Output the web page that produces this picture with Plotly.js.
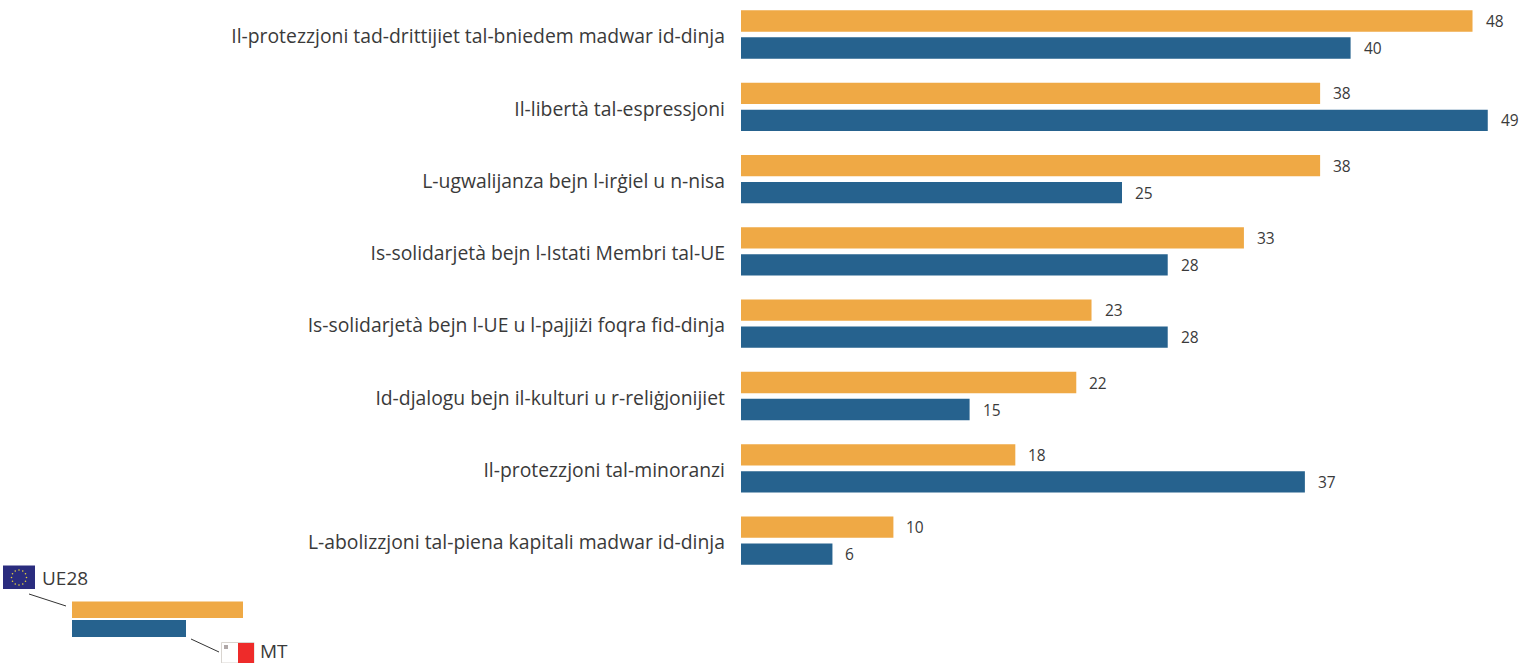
<!DOCTYPE html>
<html>
<head>
<meta charset="utf-8">
<script src="https://cdn.plot.ly/plotly-3.0.1.min.js"></script>
<style>html,body{margin:0;padding:0;background:#fff;overflow:hidden}#c{width:1532px;height:663px}</style>
</head>
<body>
<div id="c"></div>
<script>
const categories = [
  "Il-protezzjoni tad-drittijiet tal-bniedem madwar id-dinja",
  "Il-libertà tal-espressjoni",
  "L-ugwalijanza bejn l-irġiel u n-nisa",
  "Is-solidarjetà bejn l-Istati Membri tal-UE",
  "Is-solidarjetà bejn l-UE u l-pajjiżi foqra fid-dinja",
  "Id-djalogu bejn il-kulturi u r-reliġjonijiet",
  "Il-protezzjoni tal-minoranzi",
  "L-abolizzjoni tal-piena kapitali madwar id-dinja"
];
const ue28 = [48, 38, 38, 33, 23, 22, 18, 10];
const mt = [40, 49, 25, 28, 28, 15, 37, 6];
const orange = "#efa945";
const blue = "#26628e";
const textCol = "#3a3a3a";
const W = 1532, H = 663;
const FONT = "'Open Sans', sans-serif";

const px = v => v / W;
const py = v => 1 - v / H;
const rect = (x0, y0, x1, y1, fill, line) => ({type: "rect", xref: "paper", yref: "paper",
  x0: px(x0), x1: px(x1), y0: py(y0), y1: py(y1), fillcolor: fill,
  line: line ? {color: line, width: 1} : {width: 0}});
const seg = (x0, y0, x1, y1) => ({type: "line", xref: "paper", yref: "paper",
  x0: px(x0), x1: px(x1), y0: py(y0), y1: py(y1), line: {color: "#333", width: 1}});

const shapes = [
  rect(72, 601.5, 243, 618, orange),
  rect(72, 620, 186, 637, blue),
  seg(29, 594, 66, 606),
  seg(191, 639, 219, 652),
  rect(3, 565.5, 35, 589, "#2a2c7e"),
  rect(221.5, 642.5, 254, 663, "#ffffff", "#d9d5d0"),
  rect(238, 643, 254, 663, "#ee2b2a"),
  rect(224, 645, 228, 649, "#b0a8a8")
];
for (let i = 0; i < 12; i++) {
  const a = i * Math.PI / 6, cx = 19 + 7.5 * Math.cos(a), cy = 577.5 + 7.5 * Math.sin(a);
  shapes.push({type: "circle", xref: "paper", yref: "paper",
    x0: px(cx - 0.8), x1: px(cx + 0.8), y0: py(cy - 0.8), y1: py(cy + 0.8),
    fillcolor: "#e6d23c", line: {width: 0}});
}

const annotations = [];
const valueNote = (x, y, shift) => ({x, y, xref: "x", yref: "y", text: String(x), showarrow: false,
  xanchor: "left", yanchor: "middle", xshift: 11, yshift: shift,
  font: {family: FONT, size: 15.5, color: textCol}});
categories.forEach((c, i) => {
  annotations.push(valueNote(ue28[i], i, 13.5));
  annotations.push(valueNote(mt[i], i, -13.5));
});
const legendNote = (x, y, text) => ({xref: "paper", yref: "paper", x: px(x), y: py(y), text, showarrow: false,
  xanchor: "left", yanchor: "middle", borderpad: 0, font: {family: FONT, size: 19, color: textCol}});
annotations.push(legendNote(41, 578, "UE28"));
annotations.push(legendNote(259, 650.5, "MT"));

const traces = [
  {type: "bar", orientation: "h", name: "UE28", y: categories, x: ue28, marker: {color: orange}, hoverinfo: "x+y"},
  {type: "bar", orientation: "h", name: "MT", y: categories, x: mt, marker: {color: blue}, hoverinfo: "x+y"}
];
const layout = {
  width: W, height: H,
  margin: {l: 0, r: 0, t: 0, b: 0, pad: 0},
  paper_bgcolor: "#fff", plot_bgcolor: "#fff",
  showlegend: false, barmode: "group", bargap: 0.253, bargroupgap: 0.21,
  xaxis: {domain: [741 / W, 1], range: [0, (W - 741) / 15.24], visible: false, fixedrange: true},
  yaxis: {type: "category", categoryorder: "array", categoryarray: categories,
    range: [(H - 34.5) / 72.3, -34.5 / 72.3], showgrid: false, zeroline: false, showline: false,
    ticks: "", ticklabelstandoff: 15, ticklabelshift: -2, automargin: false, fixedrange: true,
    tickfont: {family: FONT, size: 19.35, color: textCol}},
  shapes, annotations
};
Plotly.newPlot("c", traces, layout, {displayModeBar: false, responsive: false});
</script>
</body>
</html>
